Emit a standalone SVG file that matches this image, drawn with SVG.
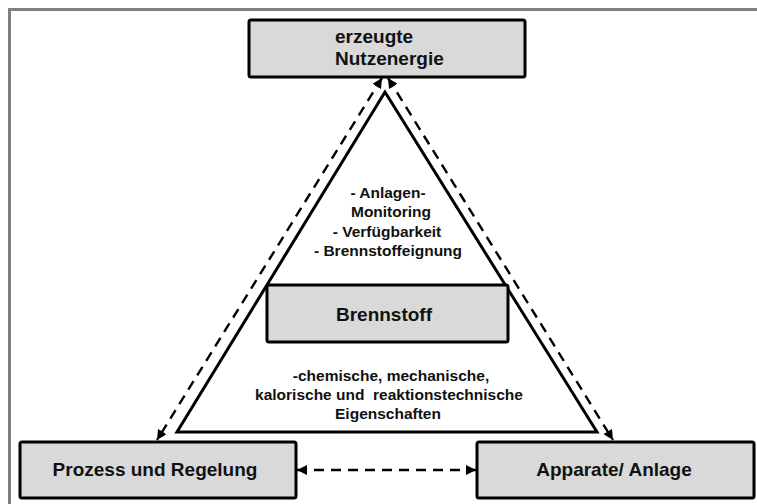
<svg xmlns="http://www.w3.org/2000/svg" width="757" height="504" viewBox="0 0 757 504">
<style>
.box{fill:#d9d9d9;stroke:#000;stroke-width:3}
.t{font-family:"Liberation Sans",Arial,sans-serif;font-weight:bold;fill:#111}
.big{font-size:19px}
.small{font-size:15.5px}
.dash{fill:none;stroke:#000;stroke-width:2.4;stroke-dasharray:10 7}
</style>
<defs>
<marker id="ah" viewBox="0 0 10 10" refX="10" refY="5" markerWidth="10" markerHeight="10" markerUnits="userSpaceOnUse" orient="auto-start-reverse">
<path d="M0,0 L10,5 L0,10 Z" fill="#000"/>
</marker>
</defs>
<rect width="757" height="504" fill="#fff"/>
<g id="frame" fill="none" stroke="#808080" stroke-width="3">
<path d="M9.5,504 V9.5 H757"/>
</g>
<g id="triangle">
<polygon points="385,92 177,432 597,432" fill="#fff" stroke="#000" stroke-width="3" stroke-linejoin="miter"/>
<text class="t small" text-anchor="middle" x="388" y="198">- Anlagen-</text>
<text class="t small" text-anchor="middle" x="391" y="217">Monitoring</text>
<text class="t small" text-anchor="middle" x="387" y="237">- Verfügbarkeit</text>
<text class="t small" text-anchor="middle" x="388" y="256">- Brennstoffeignung</text>
<text class="t small" text-anchor="middle" x="391" y="381">-chemische, mechanische,</text>
<text class="t small" text-anchor="middle" x="389" y="400" style="white-space:pre">kalorische und  reaktionstechnische</text>
<text class="t small" text-anchor="middle" x="388" y="419">Eigenschaften</text>
</g>
<g id="connectors">
<line class="dash" x1="382" y1="78" x2="157" y2="440" marker-start="url(#ah)" marker-end="url(#ah)"/>
<line class="dash" x1="388" y1="78" x2="613" y2="440" marker-start="url(#ah)" marker-end="url(#ah)"/>
<line class="dash" x1="297" y1="470" x2="476" y2="470" marker-start="url(#ah)" marker-end="url(#ah)"/>
</g>
<g id="node-nutzenergie">
<rect class="box" x="249" y="20" width="276" height="57" rx="2"/>
<text class="t big" x="335" y="43">erzeugte</text>
<text class="t big" x="335" y="65">Nutzenergie</text>
</g>
<g id="node-brennstoff">
<rect class="box" x="267" y="285" width="241" height="57" rx="2"/>
<text class="t big" text-anchor="middle" x="384" y="321">Brennstoff</text>
</g>
<g id="node-prozess">
<rect class="box" x="20" y="442" width="276" height="56" rx="2"/>
<text class="t big" text-anchor="middle" x="155" y="476">Prozess und Regelung</text>
</g>
<g id="node-apparate">
<rect class="box" x="477" y="442" width="277" height="56" rx="2"/>
<text class="t big" text-anchor="middle" x="614" y="476">Apparate/ Anlage</text>
</g>
</svg>
